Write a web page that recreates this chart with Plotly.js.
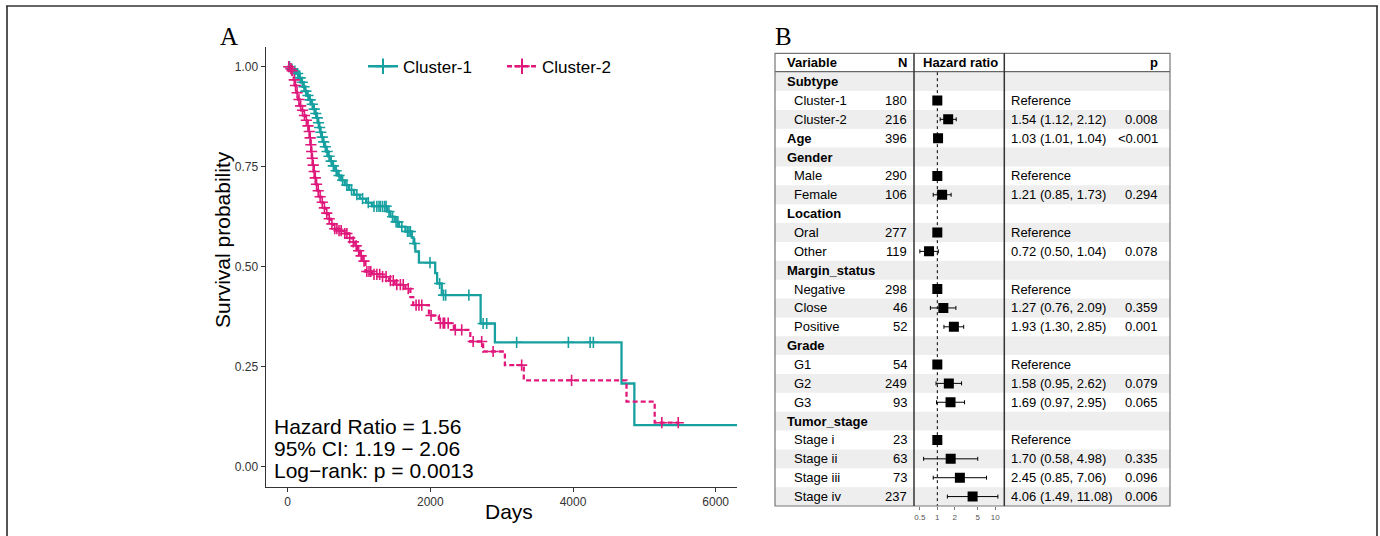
<!DOCTYPE html>
<html><head><meta charset="utf-8">
<script src="https://cdn.plot.ly/plotly-3.0.1.min.js"></script>
<style>html,body{margin:0;padding:0;background:#fff}#chart{width:1380px;height:536px}</style>
</head><body><div id="chart"></div>
<script>
// ---------------- Kaplan-Meier data (panel A) ----------------
const c1Name = 'Cluster-1';
const c1Time = [0, 40, 80, 120, 160, 190, 215, 240, 270, 300, 330, 360, 385, 405, 425, 440, 455, 475, 495, 515, 540, 565, 595, 625, 660, 700, 745, 800, 860, 930, 1010, 1100, 1180, 1395, 1440, 1500, 1560, 1650, 1740, 1765, 1790, 1840, 2068, 2095, 2160, 2705, 2905, 4680, 4860, 6300];
const c1Surv = [1.000, 0.994, 0.989, 0.983, 0.972, 0.961, 0.950, 0.939, 0.928, 0.917, 0.906, 0.894, 0.883, 0.872, 0.860, 0.848, 0.836, 0.824, 0.812, 0.800, 0.788, 0.776, 0.764, 0.752, 0.740, 0.728, 0.716, 0.704, 0.692, 0.680, 0.670, 0.660, 0.651, 0.638, 0.625, 0.612, 0.600, 0.588, 0.573, 0.558, 0.538, 0.510, 0.484, 0.458, 0.429, 0.358, 0.311, 0.208, 0.104, 0.104];
const c1Censor = [25, 60, 100, 140, 175, 205, 230, 255, 285, 315, 345, 372, 395, 415, 432, 448, 465, 485, 505, 528, 552, 580, 610, 640, 680, 720, 770, 830, 895, 970, 1050, 1130, 1210, 1250, 1280, 1300, 1330, 1360, 1380, 1420, 1470, 1520, 1545, 1600, 1680, 1700, 1720, 1780, 1995, 2130, 2185, 2215, 2540, 2740, 2790, 3210, 3935, 4240, 4285];

const c2Name = 'Cluster-2';
const c2Time = [0, 30, 55, 70, 85, 100, 120, 145, 170, 195, 220, 250, 275, 295, 310, 320, 330, 340, 352, 365, 378, 395, 415, 440, 470, 500, 530, 565, 600, 640, 700, 780, 850, 900, 940, 975, 1010, 1050, 1090, 1180, 1300, 1420, 1500, 1650, 1720, 1760, 1980, 2120, 2330, 2560, 2740, 3045, 3310, 4750, 5145, 5490];
const c2Surv = [1.000, 0.995, 0.990, 0.981, 0.967, 0.953, 0.935, 0.918, 0.902, 0.891, 0.878, 0.866, 0.852, 0.838, 0.822, 0.805, 0.788, 0.771, 0.754, 0.738, 0.722, 0.706, 0.690, 0.675, 0.661, 0.647, 0.634, 0.620, 0.607, 0.595, 0.590, 0.583, 0.572, 0.562, 0.552, 0.540, 0.527, 0.514, 0.488, 0.481, 0.475, 0.465, 0.455, 0.445, 0.424, 0.404, 0.378, 0.359, 0.342, 0.313, 0.288, 0.254, 0.216, 0.1625, 0.110, 0.110];
const c2Censor = [15, 45, 62, 92, 110, 132, 158, 182, 208, 235, 262, 285, 303, 315, 326, 335, 346, 358, 372, 387, 405, 428, 455, 485, 515, 548, 582, 620, 660, 690, 720, 750, 800, 830, 870, 920, 960, 995, 1030, 1070, 1110, 1140, 1165, 1210, 1250, 1290, 1330, 1380, 1440, 1480, 1530, 1580, 1620, 1690, 1800, 1840, 1880, 2010, 2140, 2180, 2200, 2250, 2350, 2440, 2600, 2720, 2880, 3280, 3980, 5245, 5475];

const kmXTicks = [0, 2000, 4000, 6000];
const kmYTicks = [0, 0.25, 0.5, 0.75, 1];
const kmXTitle = 'Days';
const kmYTitle = 'Survival probability';
const kmStats = ['Hazard Ratio = 1.56', '95% CI: 1.19 \u2212 2.06', 'Log\u2212rank: p = 0.0013'];

// ---------------- Forest plot data (panel B) ----------------
const fVar  = ['Subtype','Cluster-1','Cluster-2','Age','Gender','Male','Female','Location','Oral','Other','Margin_status','Negative','Close','Positive','Grade','G1','G2','G3','Tumor_stage','Stage i','Stage ii','Stage iii','Stage iv'];
const fBold = [true,false,false,true,true,false,false,true,false,false,true,false,false,false,true,false,false,false,true,false,false,false,false];
const fN    = ['', '180','216','396','', '290','106','', '277','119','', '298','46','52','', '54','249','93','', '23','63','73','237'];
const fHR   = [null,1,1.54,1.03,null,1,1.21,null,1,0.72,null,1,1.27,1.93,null,1,1.58,1.69,null,1,1.70,2.45,4.06];
const fLo   = [null,null,1.12,1.01,null,null,0.85,null,null,0.50,null,null,0.76,1.30,null,null,0.95,0.97,null,null,0.58,0.85,1.49];
const fHi   = [null,null,2.12,1.04,null,null,1.73,null,null,1.04,null,null,2.09,2.85,null,null,2.62,2.95,null,null,4.98,7.06,11.08];
const fP    = ['', '', '0.008','<0.001','', '', '0.294','', '', '0.078','', '', '0.359','0.001','', '', '0.079','0.065','', '', '0.335','0.096','0.006'];
const fTicks = [0.5, 1, 2, 5, 10];
const fHeader = ['Variable', 'N', 'Hazard ratio', 'p'];

// ---------------- helpers / style ----------------
const W = 1380, H = 536;
const px = v => v / W;
const py = v => 1 - v / H;
const TEAL = '#17A0A0', PINK = '#E0187B';
const FONT = 'Liberation Sans, Arial, sans-serif';

function stepAt(times, survs, t) {
  let s = survs[0];
  for (let i = 0; i < times.length; i++) { if (times[i] <= t) s = survs[i]; else break; }
  return s;
}

const traces = [];
traces.push({x: c1Time, y: c1Surv, mode: 'lines', line: {shape: 'hv', color: TEAL, width: 2.3}, showlegend: false, hoverinfo: 'skip', xaxis: 'x', yaxis: 'y'});
traces.push({x: c2Time, y: c2Surv, mode: 'lines', line: {shape: 'hv', color: PINK, width: 2.3, dash: '5px,3px'}, showlegend: false, hoverinfo: 'skip', xaxis: 'x', yaxis: 'y'});
traces.push({x: c1Censor, y: c1Censor.map(t => stepAt(c1Time, c1Surv, t)), mode: 'markers',
  marker: {symbol: 'cross-thin', size: 8, line: {color: TEAL, width: 1.6}}, showlegend: false, hoverinfo: 'skip', xaxis: 'x', yaxis: 'y'});
traces.push({x: c2Censor, y: c2Censor.map(t => stepAt(c2Time, c2Surv, t)), mode: 'markers',
  marker: {symbol: 'cross-thin', size: 8, line: {color: PINK, width: 1.6}}, showlegend: false, hoverinfo: 'skip', xaxis: 'x', yaxis: 'y'});
// legend entries
traces.push({x: [null], y: [null], name: c1Name, mode: 'lines+markers', legend: 'legend',
  line: {color: TEAL, width: 2.3}, marker: {symbol: 'cross-thin', size: 11, line: {color: TEAL, width: 2}}, xaxis: 'x', yaxis: 'y'});
traces.push({x: [null], y: [null], name: c2Name, mode: 'lines+markers', legend: 'legend2',
  line: {color: PINK, width: 2.3, dash: '5px,3px'}, marker: {symbol: 'cross-thin', size: 11, line: {color: PINK, width: 2}}, xaxis: 'x', yaxis: 'y'});

// forest: rows
const rowIdx = fVar.map((_, i) => i + 1);
const ciRows = rowIdx.filter((r, i) => fLo[i] !== null);
const refRows = rowIdx.filter((r, i) => fHR[i] !== null && fLo[i] === null);
traces.push({x: ciRows.map(r => fHR[r-1]), y: ciRows, mode: 'markers', xaxis: 'x2', yaxis: 'y2', showlegend: false, hoverinfo: 'skip',
  marker: {symbol: 'square', size: 10, color: '#000'},
  error_x: {type: 'data', symmetric: false, array: ciRows.map(r => fHi[r-1] - fHR[r-1]), arrayminus: ciRows.map(r => fHR[r-1] - fLo[r-1]), color: '#000', thickness: 1, width: 2}});
traces.push({x: refRows.map(r => fHR[r-1]), y: refRows, mode: 'markers', xaxis: 'x2', yaxis: 'y2', showlegend: false, hoverinfo: 'skip',
  marker: {symbol: 'square', size: 10, color: '#000'}});

// ---------------- annotations ----------------
const ann = [];
ann.push({text: 'A', xref: 'paper', yref: 'paper', x: px(229), y: py(36.7), showarrow: false, xanchor: 'center', yanchor: 'middle', font: {family: 'Liberation Serif, serif', size: 25, color: '#000'}});
ann.push({text: 'B', xref: 'paper', yref: 'paper', x: px(783), y: py(36.7), showarrow: false, xanchor: 'center', yanchor: 'middle', font: {family: 'Liberation Serif, serif', size: 25, color: '#000'}});
// axis titles of panel A
ann.push({text: kmYTitle, xref: 'paper', yref: 'paper', x: px(223), y: py(240), textangle: -90, showarrow: false, xanchor: 'center', yanchor: 'middle', borderpad: 0, font: {family: FONT, size: 21, color: '#000'}});
ann.push({text: kmXTitle, xref: 'paper', yref: 'paper', x: px(509), y: py(511), showarrow: false, xanchor: 'center', yanchor: 'middle', borderpad: 0, font: {family: FONT, size: 21, color: '#000'}});
const statY = [426.7, 448.3, 470];
kmStats.forEach((s, i) => ann.push({text: s, xref: 'paper', yref: 'paper', x: px(273), y: py(statY[i]), showarrow: false, xanchor: 'left', yanchor: 'middle', borderpad: 0, font: {family: FONT, size: 21, color: '#000'}}));

const TF = {family: FONT, size: 13, color: '#000'};
const colLabelB = 786, colLabel = 792.7, colN = 908.3, colHR = 921.5, colEst = 1010, colP = 1159.3;
ann.push({text: '<b>' + fHeader[0] + '</b>', xref: 'paper', yref: 'y2', x: px(colLabelB), y: 0, xanchor: 'left', yanchor: 'middle', showarrow: false, borderpad: 0, font: TF});
ann.push({text: '<b>' + fHeader[1] + '</b>', xref: 'paper', yref: 'y2', x: px(colN), y: 0, xanchor: 'right', yanchor: 'middle', showarrow: false, borderpad: 0, font: TF});
ann.push({text: '<b>' + fHeader[2] + '</b>', xref: 'paper', yref: 'y2', x: px(colHR), y: 0, xanchor: 'left', yanchor: 'middle', showarrow: false, borderpad: 0, font: TF});
ann.push({text: '<b>' + fHeader[3] + '</b>', xref: 'paper', yref: 'y2', x: px(colP), y: 0, xanchor: 'right', yanchor: 'middle', showarrow: false, borderpad: 0, font: TF});
fVar.forEach((v, i) => {
  const r = i + 1;
  ann.push({text: fBold[i] ? '<b>' + v + '</b>' : v, xref: 'paper', yref: 'y2', x: px(fBold[i] ? colLabelB : colLabel), y: r, xanchor: 'left', yanchor: 'middle', showarrow: false, borderpad: 0, font: TF});
  if (fN[i]) ann.push({text: fN[i], xref: 'paper', yref: 'y2', x: px(colN), y: r, xanchor: 'right', yanchor: 'middle', showarrow: false, borderpad: 0, font: TF});
  if (fHR[i] !== null) {
    const est = fLo[i] === null ? 'Reference' : fHR[i].toFixed(2) + ' (' + fLo[i].toFixed(2) + ', ' + fHi[i].toFixed(2) + ')';
    ann.push({text: est, xref: 'paper', yref: 'y2', x: px(colEst), y: r, xanchor: 'left', yanchor: 'middle', showarrow: false, borderpad: 0, font: TF});
  }
  if (fP[i]) ann.push({text: fP[i], xref: 'paper', yref: 'y2', x: px(colP), y: r, xanchor: 'right', yanchor: 'middle', showarrow: false, borderpad: 0, font: TF});
});

// ---------------- shapes ----------------
const shapes = [];
fVar.forEach((v, i) => {
  const r = i + 1;
  if (r % 2 === 1) shapes.push({type: 'rect', layer: 'below', xref: 'paper', yref: 'y2', x0: px(775), x1: px(1170), y0: r - 0.5, y1: r + 0.5, fillcolor: '#EEEEEE', line: {width: 0}});
});
shapes.push({type: 'line', xref: 'x2', yref: 'y2', x0: 1, x1: 1, y0: 0.5, y1: 23.5, line: {color: '#000', width: 1, dash: '3px,3px'}});
shapes.push({type: 'rect', xref: 'paper', yref: 'paper', x0: px(775), x1: px(1170), y0: py(53.3), y1: py(506), line: {color: '#777', width: 1.2}});
shapes.push({type: 'line', xref: 'paper', yref: 'paper', x0: px(775), x1: px(1170), y0: py(71.7), y1: py(71.7), line: {color: '#666', width: 1.2}});
[914, 1004.3].forEach(xv => shapes.push({type: 'line', xref: 'paper', yref: 'paper', x0: px(xv), x1: px(xv), y0: py(53.3), y1: py(506), line: {color: '#333', width: 1.5}}));
// outer frame
shapes.push({type: 'line', xref: 'paper', yref: 'paper', x0: px(7), x1: px(7), y0: py(6), y1: 0, line: {color: '#555', width: 2}});
shapes.push({type: 'line', xref: 'paper', yref: 'paper', x0: px(1377), x1: px(1377), y0: py(6), y1: 0, line: {color: '#555', width: 2}});
shapes.push({type: 'line', xref: 'paper', yref: 'paper', x0: px(6), x1: px(1378), y0: py(6), y1: py(6), line: {color: '#333', width: 1.5}});

const axFont = {family: FONT, size: 12, color: '#333'};
const layout = {
  width: W, height: H,
  margin: {l: 0, r: 0, t: 0, b: 0},
  paper_bgcolor: '#fff', plot_bgcolor: 'rgba(0,0,0,0)',
  font: {family: FONT, color: '#000'},
  showlegend: true,
  xaxis: {domain: [px(265.7), px(737.3)], range: [-308, 6303], tickvals: kmXTicks, ticks: 'outside', ticklen: 4, tickwidth: 1, tickcolor: '#333',
    showline: true, linecolor: '#333', linewidth: 1.2, showgrid: false, zeroline: false, tickfont: axFont, anchor: 'y'},
  yaxis: {domain: [py(486.7), py(46.7)], range: [-0.05, 1.05], tickvals: kmYTicks, tickformat: '.2f', ticks: 'outside', ticklen: 4, tickwidth: 1, tickcolor: '#333',
    showline: true, linecolor: '#333', linewidth: 1.2, showgrid: false, zeroline: false, tickfont: axFont, anchor: 'x'},
  xaxis2: {domain: [px(914), px(1004.3)], type: 'log', range: [Math.log10(0.396), Math.log10(14.3)], tickvals: fTicks, ticktext: fTicks.map(String),
    ticks: 'outside', ticklen: 3, tickwidth: 1, tickcolor: '#777', showline: false, showgrid: false, zeroline: false,
    tickfont: {family: FONT, size: 8, color: '#555'}, anchor: 'y2'},
  yaxis2: {domain: [py(506), py(53.3)], range: [23.5, -0.5], visible: false, anchor: 'x2', showgrid: false, zeroline: false},
  legend: {x: px(363), xanchor: 'left', y: py(66.7), yanchor: 'middle', orientation: 'h', bgcolor: 'rgba(0,0,0,0)', borderwidth: 0,
    font: {family: FONT, size: 17, color: '#000'}, itemwidth: 30},
  legend2: {x: px(502), xanchor: 'left', y: py(66.7), yanchor: 'middle', orientation: 'h', bgcolor: 'rgba(0,0,0,0)', borderwidth: 0,
    font: {family: FONT, size: 17, color: '#000'}, itemwidth: 30},
  annotations: ann,
  shapes: shapes
};
Plotly.newPlot('chart', traces, layout, {staticPlot: true, displayModeBar: false});
</script></body></html>
